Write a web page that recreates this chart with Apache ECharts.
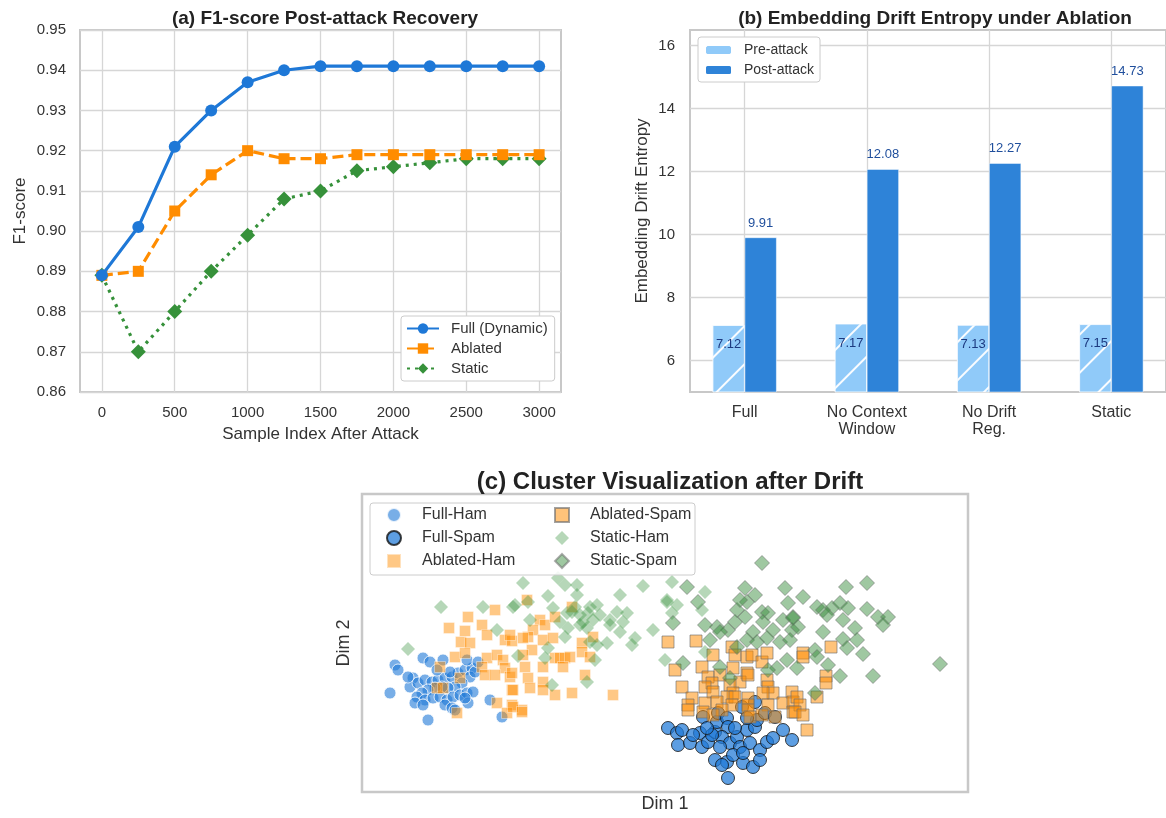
<!DOCTYPE html>
<html>
<head>
<meta charset="utf-8">
<script src="https://cdn.jsdelivr.net/npm/echarts@6/dist/echarts.min.js"></script>
<style>html,body{margin:0;padding:0;background:#fff}#c{width:1166px;height:818px}</style>
</head>
<body>
<div id="c"></div>
<script>
// ---------- Panel (a) data ----------
const aSteps = [0, 250, 500, 750, 1000, 1250, 1500, 1750, 2000, 2250, 2500, 2750, 3000];
const aFull = [0.889, 0.901, 0.921, 0.930, 0.937, 0.940, 0.941, 0.941, 0.941, 0.941, 0.941, 0.941, 0.941];
const aAblated = [0.889, 0.890, 0.905, 0.914, 0.920, 0.918, 0.918, 0.919, 0.919, 0.919, 0.919, 0.919, 0.919];
const aStatic = [0.889, 0.870, 0.880, 0.890, 0.899, 0.908, 0.910, 0.915, 0.916, 0.917, 0.918, 0.918, 0.918];
const aXTicks = [0, 500, 1000, 1500, 2000, 2500, 3000];

// ---------- Panel (b) data ----------
const bCategories = ['Full', 'No Context\nWindow', 'No Drift\nReg.', 'Static'];
const bPre = [7.12, 7.17, 7.13, 7.15];
const bPost = [9.91, 12.08, 12.27, 14.73];
const bYTicks = [6, 8, 10, 12, 14, 16];

// ---------- Panel (c) data (Dim 1, Dim 2) ----------
const cFullHam = [[-27.0,-2.2],[-26.7,-2.7],[-27.5,-5.0],[-24.2,-1.5],[-23.5,-1.9],[-22.2,-1.7],[-25.2,-3.5],[-25.5,-4.4],[-24.7,-4.0],[-24.0,-3.7],[-23.3,-3.9],[-22.7,-3.7],[-22.0,-3.5],[-21.3,-3.4],[-20.7,-3.0],[-20.0,-2.7],[-19.3,-2.5],[-19.5,-3.4],[-20.3,-4.0],[-21.0,-4.4],[-21.7,-4.5],[-22.3,-4.4],[-23.0,-4.5],[-23.7,-4.7],[-24.3,-5.0],[-24.8,-5.4],[-24.0,-5.7],[-23.2,-5.5],[-22.5,-5.4],[-21.8,-5.7],[-21.2,-5.4],[-20.5,-5.2],[-19.8,-5.0],[-19.2,-4.9],[-25.0,-6.0],[-24.2,-6.2],[-22.0,-6.2],[-21.3,-6.5],[-19.7,-6.0],[-20.0,-5.5],[-21.0,-6.7],[-23.7,-7.7],[-17.5,-5.7],[-16.3,-7.4],[-19.0,-2.9],[-19.8,-1.7],[-18.7,-1.9],[-25.7,-3.4],[-22.8,-2.7],[-21.5,-2.9]];
const cFullSpam = [[0.3,-8.5],[1.2,-9.0],[1.7,-8.7],[1.3,-10.2],[2.5,-10.0],[3.5,-9.0],[3.7,-10.4],[4.3,-9.9],[5.0,-8.9],[5.2,-7.9],[5.3,-7.0],[6.2,-7.5],[6.3,-8.4],[5.7,-9.4],[6.5,-10.0],[7.2,-9.4],[7.5,-10.4],[8.2,-8.7],[9.0,-8.4],[9.2,-7.7],[9.0,-5.9],[7.7,-6.4],[3.8,-7.4],[8.5,-10.0],[9.5,-10.7],[10.2,-9.9],[10.8,-9.5],[11.8,-8.7],[12.7,-9.7],[5.0,-11.7],[6.2,-11.9],[6.8,-11.2],[7.8,-12.0],[8.8,-12.4],[6.3,-13.5],[5.7,-12.2],[4.7,-9.2],[2.8,-9.2],[7.0,-8.5],[8.2,-7.5],[10.0,-7.0],[11.0,-7.4],[4.2,-8.5],[5.5,-10.4],[7.8,-11.0],[9.5,-11.7]];
const cAblatedHam = [[-19.7,2.6],[-17.0,3.3],[-21.6,1.5],[-20.0,1.2],[-18.3,1.8],[-17.8,0.8],[-20.4,0.1],[-19.5,0.0],[-16.0,0.3],[-15.3,0.2],[-15.5,0.8],[-21.0,-1.4],[-20.0,-1.0],[-17.8,-1.5],[-16.8,-1.2],[-16.2,-1.7],[-22.5,-2.4],[-18.3,-2.4],[-16.0,-2.5],[-18.0,-3.2],[-17.0,-3.2],[-15.5,-3.4],[-20.5,-3.5],[-22.8,-4.5],[-22.2,-4.5],[-15.3,-4.7],[-16.8,-6.0],[-15.3,-6.2],[-15.8,-7.0],[-20.8,-7.0],[-14.3,-6.7],[-13.8,4.3],[-12.5,2.3],[-12.0,1.8],[-11.0,2.6],[-13.2,1.3],[-13.7,0.6],[-14.2,0.5],[-12.2,0.3],[-11.2,0.5],[-9.3,3.6],[-8.3,0.0],[-7.2,0.6],[-8.3,-0.9],[-13.3,-0.7],[-14.2,-1.2],[-11.0,-1.5],[-10.5,-1.5],[-10.0,-1.5],[-9.5,-1.4],[-7.5,-1.4],[-14.0,-2.4],[-10.2,-2.4],[-12.2,-2.4],[-13.7,-3.5],[-12.2,-3.9],[-8.0,-3.2],[-15.2,-4.7],[-13.5,-4.5],[-12.2,-4.7],[-9.3,-5.0],[-11.0,-5.2],[-5.2,-5.2],[-15.2,-6.4],[-14.3,-6.9],[-15.3,-3.0]];
const cAblatedSpam = [[0.3,0.1],[3.1,0.2],[4.8,-1.2],[6.7,-0.4],[7.0,-1.2],[8.2,-1.4],[8.7,-1.2],[9.7,-1.9],[10.2,-1.0],[1.0,-2.7],[3.7,-2.4],[6.8,-2.5],[8.2,-3.0],[4.3,-3.4],[5.5,-3.2],[7.5,-3.9],[8.3,-3.2],[4.7,-4.0],[6.5,-4.2],[1.7,-4.4],[4.0,-4.4],[4.8,-4.9],[6.8,-5.0],[10.2,-3.7],[10.3,-4.4],[10.8,-5.0],[12.7,-4.9],[2.7,-5.5],[6.2,-5.4],[7.0,-5.4],[8.3,-5.5],[9.8,-5.0],[2.3,-6.2],[4.0,-6.0],[5.2,-5.9],[6.7,-6.2],[8.3,-6.2],[10.3,-6.2],[11.8,-6.0],[12.8,-5.9],[2.3,-6.7],[3.8,-6.9],[5.7,-6.7],[8.3,-6.7],[8.5,-7.4],[11.0,-7.4],[12.8,-6.9],[9.7,-7.2],[4.8,-7.2],[16.6,-0.4],[13.8,-1.0],[13.8,-1.4],[16.1,-3.3],[16.1,-4.0],[13.2,-5.4],[15.2,-5.4],[13.5,-6.2],[13.0,-6.9],[13.8,-7.2],[14.2,-8.7]];
const cStaticHam = [[-22.4,3.6],[-18.2,3.6],[-15.2,3.6],[-14.2,6.0],[-25.7,-0.6],[-14.7,-1.3],[-16.8,1.3],[-10.7,6.5],[-10.0,5.8],[-8.8,5.8],[-11.7,4.7],[-8.8,4.8],[-4.5,4.8],[-2.2,5.7],[0.2,4.3],[-15.0,3.8],[-13.7,4.1],[-11.2,3.5],[-9.0,3.6],[-7.5,3.6],[-6.8,3.8],[-9.8,3.0],[-9.3,3.1],[-8.5,2.8],[-7.7,3.0],[-6.5,2.8],[-4.8,3.1],[-3.8,3.0],[-13.5,2.3],[-10.5,2.1],[-8.2,2.1],[-7.2,2.3],[-5.5,2.3],[-4.2,2.1],[-9.7,1.5],[-8.5,1.8],[-7.8,1.5],[-5.5,1.8],[-4.5,1.1],[-1.2,1.3],[-10.0,0.6],[-7.5,0.1],[-6.8,-0.2],[-5.8,0.0],[-3.0,0.5],[-3.3,-0.2],[-11.7,-0.5],[-12.0,-1.5],[-7.0,-1.7],[0.0,-1.7],[-11.3,-4.2],[-7.8,-3.9],[0.7,6.1],[4.0,5.1],[0.2,4.1],[1.2,3.8],[3.7,3.3],[0.7,3.0],[4.0,-0.9]];
const cStaticSpam = [[2.2,5.6],[3.3,4.1],[0.8,2.0],[8.0,5.5],[8.2,4.1],[7.2,3.3],[8.0,2.6],[7.0,2.1],[5.2,1.6],[6.3,1.3],[5.5,1.1],[8.8,1.1],[9.7,3.1],[10.3,3.0],[9.8,2.1],[10.8,1.3],[11.8,2.3],[12.0,5.5],[12.3,4.0],[12.8,2.6],[12.7,1.3],[8.2,0.3],[9.2,0.1],[10.2,0.5],[11.5,0.1],[7.2,-0.4],[12.5,0.3],[1.8,-2.0],[5.5,-2.4],[6.5,-3.5],[11.2,-2.5],[12.2,-1.7],[10.3,-2.7],[20.2,6.0],[18.1,5.6],[13.8,4.6],[15.2,3.6],[15.8,3.3],[16.7,3.5],[17.5,4.0],[18.3,3.5],[16.2,2.8],[17.8,2.3],[20.2,3.4],[21.3,2.6],[22.3,2.6],[21.8,1.8],[12.8,2.5],[13.3,1.6],[15.8,1.1],[19.0,1.5],[17.8,0.4],[19.2,0.3],[18.2,-0.5],[15.0,-0.7],[15.2,-1.4],[19.8,-1.1],[16.3,-2.2],[13.2,-2.5],[17.5,-3.3],[20.8,-3.3],[27.5,-2.1],[15.0,-5.0],[9.7,8.0],[4.0,1.8],[7.5,4.3],[9.0,4.8],[4.5,0.3]];

// ---------- styling ----------
const FONT = 'Liberation Sans, Arial, Helvetica, sans-serif';
const TXT = '#333';
const GRIDC = '#d6d6d6';
const FRAME = '#c8c8c8';
const BLUE = '#1E78D7', ORANGE = '#FF8C00', GREEN = '#36913A';

const chart = echarts.init(document.getElementById('c'), null, {renderer: 'canvas'});

function frameAxisCommon() {
  return {
    axisLine: {show: false},
    axisTick: {show: false},
    splitLine: {show: true, lineStyle: {color: GRIDC, width: 1.3}},
    axisLabel: {color: TXT, fontFamily: FONT, fontSize: 15}
  };
}

const option = {
  animation: false,
  backgroundColor: '#fff',
  textStyle: {fontFamily: FONT},
  title: [
    {text: '(a) F1-score Post-attack Recovery', left: 320, top: 4, textAlign: 'center',
     textStyle: {fontFamily: FONT, fontSize: 19, fontWeight: 'bold', color: '#222'}},
    {text: '(b) Embedding Drift Entropy under Ablation', left: 930, top: 4, textAlign: 'center',
     textStyle: {fontFamily: FONT, fontSize: 19, fontWeight: 'bold', color: '#222'}},
    {text: '(c) Cluster Visualization after Drift', left: 665, top: 465, textAlign: 'center',
     textStyle: {fontFamily: FONT, fontSize: 24, fontWeight: 'bold', color: '#222'}}
  ],
  grid: [
    {left: 80, top: 30, width: 481, height: 362, show: true, borderColor: FRAME, borderWidth: 2, backgroundColor: 'transparent'},
    {left: 690, top: 30, width: 479, height: 362, show: true, borderColor: FRAME, borderWidth: 2, backgroundColor: 'transparent'},
    {left: 362, top: 494, width: 606, height: 298, show: true, borderColor: FRAME, borderWidth: 2.5, backgroundColor: 'transparent'}
  ],
  xAxis: [
    Object.assign(frameAxisCommon(), {
      gridIndex: 0, type: 'value', min: -150, max: 3150,
      name: 'Sample Index After Attack', nameLocation: 'middle', nameGap: 34,
      nameTextStyle: {fontFamily: FONT, fontSize: 17, color: TXT},
      axisTick: {show: false, customValues: aXTicks},
      axisLabel: {customValues: aXTicks, color: TXT, fontFamily: FONT, fontSize: 15, margin: 13,
        formatter: v => String(v)}
    }),
    Object.assign(frameAxisCommon(), {
      gridIndex: 1, type: 'value', min: -0.447, max: 3.447,
      axisTick: {show: false, customValues: [0, 1, 2, 3]},
      axisLabel: {customValues: [0, 1, 2, 3], color: TXT, fontFamily: FONT, fontSize: 16, margin: 12, lineHeight: 17,
        formatter: v => bCategories[Math.round(v)]}
    }),
    {gridIndex: 2, type: 'value', min: -30.3, max: 30.3,
     name: 'Dim 1', nameLocation: 'middle', nameGap: 3,
     nameTextStyle: {fontFamily: FONT, fontSize: 18, color: TXT},
     axisLine: {show: false}, axisTick: {show: false}, axisLabel: {show: false}, splitLine: {show: false}}
  ],
  yAxis: [
    Object.assign(frameAxisCommon(), {
      gridIndex: 0, type: 'value', min: 0.86, max: 0.95, interval: 0.01,
      name: 'F1-score', nameLocation: 'middle', nameGap: 51,
      nameTextStyle: {fontFamily: FONT, fontSize: 17, color: TXT},
      axisLabel: {color: TXT, fontFamily: FONT, fontSize: 15, margin: 14, formatter: v => v.toFixed(2)}
    }),
    Object.assign(frameAxisCommon(), {
      gridIndex: 1, type: 'value', min: 5, max: 16.5,
      name: 'Embedding Drift Entropy', nameLocation: 'middle', nameGap: 39,
      nameTextStyle: {fontFamily: FONT, fontSize: 17, color: TXT},
      axisTick: {show: false, customValues: bYTicks},
      axisLabel: {customValues: bYTicks, color: TXT, fontFamily: FONT, fontSize: 15, margin: 15}
    }),
    {gridIndex: 2, type: 'value', min: -14.9, max: 14.9,
     name: 'Dim 2', nameLocation: 'middle', nameGap: 9,
     nameTextStyle: {fontFamily: FONT, fontSize: 18, color: TXT},
     axisLine: {show: false}, axisTick: {show: false}, axisLabel: {show: false}, splitLine: {show: false}}
  ],
  legend: [
    {data: ['Full (Dynamic)', 'Ablated', 'Static'], orient: 'vertical', left: 401, top: 316,
     itemWidth: 32, itemHeight: 13, itemGap: 5, padding: [5, 7, 5, 5],
     backgroundColor: '#fff', borderColor: '#ccc', borderWidth: 1, borderRadius: 3,
     textStyle: {fontFamily: FONT, fontSize: 15, color: TXT, padding: [0, 0, 0, 7]}},
    {data: ['Pre-attack', 'Post-attack'], orient: 'vertical', left: 698, top: 37,
     itemWidth: 27, itemHeight: 10, itemGap: 6, padding: [6, 6, 5, 6],
     backgroundColor: '#fff', borderColor: '#ccc', borderWidth: 1, borderRadius: 3,
     textStyle: {fontFamily: FONT, fontSize: 14, color: TXT, padding: [0, 0, 0, 7]}},
    {data: ['Full-Ham', 'Full-Spam', 'Ablated-Ham'], orient: 'vertical', left: 386, top: 507, z: 30,
     itemWidth: 14, itemHeight: 14, itemGap: 7, padding: 0,
     textStyle: {fontFamily: FONT, fontSize: 16, color: TXT, padding: [0, 0, 0, 16]}},
    {data: ['Ablated-Spam', 'Static-Ham', 'Static-Spam'], orient: 'vertical', left: 554, top: 507, z: 30,
     itemWidth: 14, itemHeight: 14, itemGap: 7, padding: 0,
     textStyle: {fontFamily: FONT, fontSize: 16, color: TXT, padding: [0, 0, 0, 16]}}
  ],
  graphic: [
    {type: 'rect', z: 25, shape: {x: 370, y: 503, width: 325, height: 72, r: 3},
     style: {fill: 'rgba(255,255,255,0.85)', stroke: '#ccc', lineWidth: 1}}
  ],
  series: [
    {name: 'Full (Dynamic)', type: 'line', xAxisIndex: 0, yAxisIndex: 0,
     data: aSteps.map((s, i) => [s, aFull[i]]),
     symbol: 'circle', symbolSize: 12, lineStyle: {color: BLUE, width: 3.2},
     itemStyle: {color: BLUE}, z: 5},
    {name: 'Ablated', type: 'line', xAxisIndex: 0, yAxisIndex: 0,
     data: aSteps.map((s, i) => [s, aAblated[i]]),
     symbol: 'rect', symbolSize: 11, lineStyle: {color: ORANGE, width: 3.2, type: [11, 5]},
     itemStyle: {color: ORANGE}, z: 4},
    {name: 'Static', type: 'line', xAxisIndex: 0, yAxisIndex: 0,
     data: aSteps.map((s, i) => [s, aStatic[i]]),
     symbol: 'diamond', symbolSize: 15, lineStyle: {color: GREEN, width: 3.2, type: [3, 5]},
     itemStyle: {color: GREEN}, z: 3},
    {name: 'Pre-attack', type: 'bar', xAxisIndex: 1, yAxisIndex: 1,
     data: bPre.map((v, i) => [i, v]), barWidth: 32, barGap: '0%',
     itemStyle: {color: '#90CAF9', borderColor: '#fff', borderWidth: 0.5,
       decal: {symbol: 'rect', symbolSize: 1, color: 'rgba(255,255,255,0.95)', dashArrayX: [1, 0], dashArrayY: [1.5, 25], rotation: -Math.PI / 4}},
     label: {show: true, position: 'insideTop', distance: 13, color: '#1c3a80', fontFamily: FONT, fontSize: 13,
       formatter: p => p.value[1].toFixed(2)}},
    {name: 'Post-attack', type: 'bar', xAxisIndex: 1, yAxisIndex: 1,
     data: bPost.map((v, i) => [i, v]), barWidth: 32, barGap: '0%',
     itemStyle: {color: '#2E83D8', borderColor: '#fff', borderWidth: 0.5},
     label: {show: true, position: 'top', distance: 8, color: '#1f4e9c', fontFamily: FONT, fontSize: 13,
       formatter: p => p.value[1].toFixed(2)}},
    {name: 'Full-Ham', type: 'scatter', xAxisIndex: 2, yAxisIndex: 2, data: cFullHam,
     symbol: 'circle', symbolSize: 12,
     itemStyle: {color: 'rgba(30,120,215,0.75)', borderColor: '#fff', borderWidth: 1}},
    {name: 'Full-Spam', type: 'scatter', xAxisIndex: 2, yAxisIndex: 2, data: cFullSpam,
     symbol: 'circle', symbolSize: 13,
     itemStyle: {color: 'rgba(30,120,215,0.9)', borderColor: '#111', borderWidth: 1}},
    {name: 'Ablated-Ham', type: 'scatter', xAxisIndex: 2, yAxisIndex: 2, data: cAblatedHam,
     symbol: 'rect', symbolSize: 11,
     itemStyle: {color: 'rgba(255,140,0,0.6)', borderColor: 'rgba(255,255,255,0.6)', borderWidth: 0.8}},
    {name: 'Ablated-Spam', type: 'scatter', xAxisIndex: 2, yAxisIndex: 2, data: cAblatedSpam,
     symbol: 'rect', symbolSize: 12,
     itemStyle: {color: 'rgba(255,140,0,0.65)', borderColor: 'rgba(110,110,110,0.8)', borderWidth: 1}},
    {name: 'Static-Ham', type: 'scatter', xAxisIndex: 2, yAxisIndex: 2, data: cStaticHam,
     symbol: 'diamond', symbolSize: 14,
     itemStyle: {color: 'rgba(54,145,58,0.45)'}},
    {name: 'Static-Spam', type: 'scatter', xAxisIndex: 2, yAxisIndex: 2, data: cStaticSpam,
     symbol: 'diamond', symbolSize: 15,
     itemStyle: {color: 'rgba(54,140,58,0.6)', borderColor: 'rgba(110,110,110,0.7)', borderWidth: 1}}
  ]
};
chart.setOption(option);
</script>
</body>
</html>
